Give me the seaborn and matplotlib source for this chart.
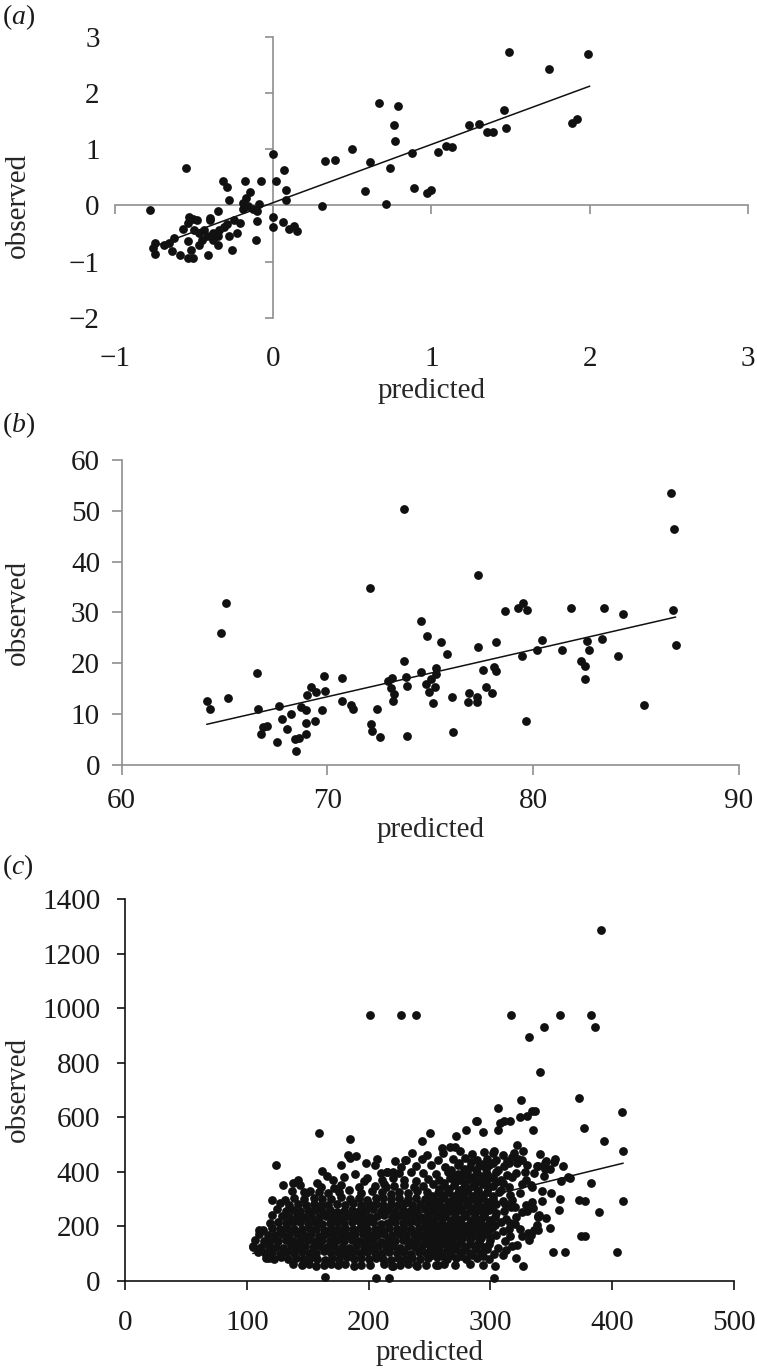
import matplotlib
matplotlib.use("Agg")
import matplotlib.pyplot as plt
import seaborn as sns

# ---------------- data ----------------
# panel (a)
a_pred = [-0.78, -0.55, 0.00, 0.07, 0.02, 0.08, 0.08, -0.32, -0.29, -0.18,
          -0.08, -0.28, -0.15, -0.17, -0.19, -0.16, -0.13, -0.09, -0.10, -0.19,
          -0.10, -0.11, 0.00, 0.00, 0.06, 0.10, 0.13, 0.15, -0.35, -0.40,
          -0.40, -0.25, -0.21, -0.23, -0.26, -0.35, -0.41, -0.53, -0.51, -0.48,
          -0.57, -0.54, -0.50, -0.47, -0.44, -0.45, -0.42, -0.38, -0.34, -0.31,
          -0.29, -0.35, -0.28, -0.54, -0.52, -0.54, -0.51, -0.59, -0.63, -0.66,
          -0.64, -0.69, -0.75, -0.76, -0.75, -0.47, -0.38, 0.31, 0.33, 0.39,
          0.50, 0.61, 0.58, 0.67, 0.79, 0.76, 0.77, 0.74, 0.71, 0.88,
          0.89, 0.97, 1.00, 1.04, 1.09, 1.13, 1.24, 1.30, 1.35, 1.39,
          1.46, 1.47, 1.49, 1.74, 1.89, 1.92, 1.99]
a_obs = [-0.08, 0.66, 0.92, 0.63, 0.44, 0.27, 0.10, 0.43, 0.33, 0.43,
         0.44, 0.10, 0.23, 0.13, 0.04, -0.02, -0.07, 0.03, -0.10, -0.06,
         -0.28, -0.62, -0.21, -0.38, -0.30, -0.42, -0.37, -0.45, -0.11, -0.22,
         -0.27, -0.27, -0.31, -0.49, -0.80, -0.70, -0.88, -0.21, -0.25, -0.26,
         -0.42, -0.32, -0.44, -0.49, -0.44, -0.61, -0.55, -0.49, -0.44, -0.38,
         -0.33, -0.55, -0.55, -0.64, -0.79, -0.93, -0.93, -0.88, -0.58, -0.67,
         -0.82, -0.70, -0.67, -0.76, -0.86, -0.70, -0.61, -0.01, 0.78, 0.81,
         1.01, 0.77, 0.26, 1.82, 1.76, 1.42, 1.14, 0.66, 0.03, 0.93,
         0.30, 0.22, 0.28, 0.94, 1.05, 1.03, 1.43, 1.44, 1.30, 1.30,
         1.69, 1.38, 2.72, 2.43, 1.47, 1.53, 2.70]
a_trend_x = [-0.77, 2.00]
a_trend_y = [-0.75, 2.12]

# panel (b)
b_pred = [64.16, 64.29, 64.83, 65.05, 65.18, 66.56, 66.61, 66.75, 66.88, 67.05,
          67.66, 67.53, 67.80, 68.02, 68.23, 68.44, 68.63, 68.45, 68.71, 68.96,
          68.96, 68.96, 68.99, 69.21, 69.44, 69.38, 69.72, 69.85, 69.88, 70.72,
          70.69, 71.14, 71.22, 72.07, 72.11, 72.15, 72.39, 72.55, 73.73, 72.96,
          73.15, 73.07, 73.25, 73.17, 73.73, 73.80, 73.85, 73.85, 74.54, 74.82,
          74.54, 74.79, 74.93, 75.01, 75.11, 75.22, 75.26, 75.27, 75.50, 75.79,
          76.03, 76.11, 76.89, 76.84, 77.25, 77.28, 77.30, 77.33, 77.57, 77.70,
          77.98, 78.09, 78.19, 78.19, 78.62, 79.27, 79.51, 79.71, 79.47, 79.65,
          80.20, 80.44, 81.41, 81.83, 82.30, 82.51, 82.51, 82.59, 82.69, 83.35,
          83.45, 84.10, 84.34, 85.38, 86.68, 86.85, 86.77, 86.92]
b_obs = [12.6, 10.96, 25.9, 31.9, 13.1, 18.0, 10.96, 6.1, 7.5, 7.7,
         11.6, 4.5, 9.0, 7.1, 10.0, 5.05, 5.4, 2.75, 11.35, 10.8,
         8.2, 6.1, 13.8, 15.3, 14.3, 8.7, 10.8, 17.6, 14.6, 17.05,
         12.6, 11.8, 11.0, 34.8, 8.0, 6.6, 11.1, 5.6, 50.3, 16.6,
         17.05, 15.1, 14.0, 12.5, 20.5, 17.4, 15.6, 5.8, 28.3, 25.4,
         18.2, 15.9, 14.3, 16.9, 12.1, 15.4, 17.9, 19.0, 24.1, 21.8,
         13.4, 6.4, 14.1, 12.3, 12.3, 13.3, 37.4, 23.3, 18.6, 15.3,
         14.1, 19.3, 18.5, 24.1, 30.3, 30.9, 31.8, 30.4, 21.5, 8.6,
         22.6, 24.6, 22.6, 30.8, 20.5, 19.5, 16.9, 24.3, 22.6, 24.8,
         30.8, 21.4, 29.8, 11.9, 53.6, 46.4, 30.5, 23.7]
b_trend_x = [64.13, 86.92]
b_trend_y = [8.0, 29.1]

# panel (c)
c_pred = [
    138, 145, 151, 157, 163, 169, 175, 181, 188, 194, 201, 213, 219, 226, 232, 239, 247, 255, 262, 271, 283, 294,
    116, 122, 128, 134, 140, 146, 152, 158, 164, 170, 176, 182, 188, 194, 200, 206, 212, 218, 224, 230, 236, 242, 249, 256, 264, 272, 280, 289, 299,
    109, 115, 121, 127, 133, 139, 145, 151, 157, 163, 169, 175, 181, 187, 193, 199, 205, 211, 217, 223, 229, 235, 241, 247, 253, 260, 267, 275, 283, 292, 303,
    105, 112, 118, 124, 130, 136, 142, 148, 154, 160, 166, 172, 178, 184, 190, 196, 202, 208, 214, 220, 226, 232, 238, 244, 251, 258, 265, 272, 279, 287, 295, 306, 318,
    107, 114, 120, 126, 132, 138, 144, 150, 156, 162, 168, 174, 180, 186, 192, 198, 204, 210, 216, 222, 228, 234, 240, 246, 252, 259, 267, 275, 283, 291, 300, 312,
    110, 117, 123, 129, 135, 141, 147, 153, 159, 165, 171, 177, 183, 189, 195, 201, 207, 213, 219, 225, 231, 237, 243, 249, 256, 263, 271, 279, 287, 295, 305, 326,
    113, 121, 127, 133, 139, 145, 151, 157, 163, 169, 175, 181, 187, 193, 199, 205, 211, 217, 223, 229, 235, 241, 247, 254, 261, 269, 277, 285, 293, 301, 315, 336,
    119, 126, 132, 138, 144, 150, 156, 162, 168, 174, 180, 186, 192, 198, 204, 210, 216, 222, 228, 234, 240, 246, 253, 260, 267, 275, 283, 291, 299, 309,
    121, 129, 135, 141, 147, 153, 159, 165, 171, 177, 183, 189, 195, 201, 207, 213, 219, 225, 231, 237, 243, 249, 256, 263, 271, 279, 287, 295, 304, 321, 339,
    125, 132, 138, 144, 150, 156, 162, 168, 174, 180, 186, 192, 198, 204, 210, 216, 222, 228, 234, 240, 246, 252, 259, 267, 275, 283, 291, 299, 311,
    127, 135, 142, 149, 155, 161, 167, 174, 181, 187, 194, 200, 206, 212, 218, 224, 230, 236, 242, 249, 257, 265, 273, 281, 289, 297, 305, 329,
    131, 139, 147, 155, 162, 169, 177, 185, 192, 199, 206, 212, 218, 225, 232, 239, 246, 254, 262, 270, 278, 286, 294, 302, 318,
    137, 149, 159, 167, 176, 184, 194, 203, 211, 218, 225, 232, 240, 248, 257, 265, 273, 281, 289, 297, 307, 324,
    144, 161, 177, 192, 205, 213, 221, 229, 237, 245, 253, 262, 270, 278, 286, 294, 302, 315, 333,
    171, 199, 211, 220, 229, 239, 249, 258, 267, 275, 283, 291, 299, 309, 329,
    189, 215, 225, 235, 245, 255, 265, 273, 281, 289, 297, 305, 321,
    205, 227, 239, 251, 263, 273, 283, 291, 299, 311, 339,
    185, 230, 244, 257, 269, 279, 289, 297, 305, 323, 345,
    261, 275, 285, 295, 303, 319, 352,
    201, 227, 239, 317, 357, 383, 386, 344, 332, 341, 373, 325, 306, 408, 377, 393, 409, 383, 409, 389,
    373, 378, 374, 378, 404, 351, 361, 365, 358, 349, 341, 335, 334, 337, 330, 322, 327, 294, 288, 280,
    272, 250, 244, 231, 159, 185, 183, 190, 124, 162, 177, 207, 215, 220, 138, 147, 121, 164, 206, 217,
    303, 327, 321, 304, 257, 240, 220, 349, 342, 339, 333, 339, 334, 335, 391, 105, 110, 118, 308, 311,
    316, 289, 306, 324, 260, 267, 271,
    302, 310, 318, 326, 314, 322, 330, 338, 346, 353, 360, 345, 328, 336, 344, 318, 310, 326, 334, 342,
    350, 357, 312, 320, 330, 340, 356, 364, 346, 338, 316, 324, 332,
    130, 142, 152, 158, 166, 172, 180, 196, 210, 222, 236, 248, 198, 214,
    252, 260, 268, 276, 285, 294, 310,
    250, 257, 264, 271, 279, 288, 297, 313,
    248, 255, 262, 269, 276, 283, 291, 299, 322,
    250, 256, 263, 270, 277, 284, 292, 300, 316,
    252, 259, 266, 274, 282, 290, 298, 310, 331,
    250, 257, 264, 271, 279, 287, 295, 304, 320,
    253, 260, 268, 276, 284, 292, 300, 313,
    249, 256, 263, 271, 279, 287, 295, 305, 326,
    253, 261, 269, 277, 285, 293, 301, 317,
    250, 258, 266, 274, 282, 290, 298, 310,
    252, 261, 269, 277, 285, 293, 302, 316,
    258, 266, 274, 282, 290, 298, 309,
    262, 271, 279, 288, 296, 305,
    270, 278, 286, 294, 302, 314,
    268, 278, 288, 296, 306,
    274, 284, 294, 302, 315,
]
c_obs = [
    62, 57, 60, 55, 58, 63, 56, 60, 54, 59, 57, 61, 55, 58, 62, 56, 59, 57, 63, 58, 60, 56,
    84, 80, 86, 78, 82, 79, 85, 81, 77, 83, 80, 86, 79, 82, 78, 84, 81, 77, 83, 80, 85, 79, 82, 86, 78, 83, 80, 85, 81,
    106, 101, 104, 99, 107, 102, 105, 100, 103, 108, 101, 104, 99, 106, 102, 105, 100, 103, 107, 101, 104, 99, 106, 102, 105, 100, 104, 107, 101, 103, 98,
    126, 122, 128, 124, 121, 127, 125, 129, 122, 126, 123, 128, 124, 121, 127, 125, 122, 129, 124, 126, 121, 127, 123, 128, 125, 122, 126, 129, 123, 127, 124, 121, 128,
    150, 146, 149, 144, 151, 147, 145, 150, 143, 148, 146, 151, 144, 149, 147, 145, 150, 143, 148, 146, 151, 144, 149, 147, 152, 145, 148, 143, 150, 146, 149, 144,
    172, 168, 166, 171, 169, 173, 167, 170, 165, 172, 168, 171, 166, 170, 173, 167, 169, 172, 166, 171, 168, 173, 167, 170, 165, 172, 168, 171, 166, 170, 168, 165,
    186, 192, 189, 194, 190, 188, 193, 191, 187, 195, 190, 192, 188, 194, 189, 191, 187, 193, 190, 195, 188, 192, 189, 194, 190, 187, 193, 191, 188, 194, 190, 186,
    212, 216, 210, 214, 217, 211, 215, 209, 213, 216, 210, 214, 218, 211, 215, 209, 213, 217, 210, 214, 216, 211, 215, 209, 213, 217, 210, 214, 212, 216,
    240, 236, 233, 238, 234, 237, 232, 239, 235, 231, 237, 234, 238, 233, 236, 240, 234, 237, 232, 238, 235, 233, 239, 236, 234, 237, 232, 238, 235, 233, 236,
    262, 256, 259, 254, 258, 261, 255, 259, 253, 257, 260, 254, 258, 262, 255, 259, 256, 261, 254, 258, 262, 255, 259, 256, 260, 254, 258, 261, 257,
    284, 278, 281, 276, 283, 279, 277, 282, 278, 284, 276, 280, 283, 277, 281, 279, 284, 276, 282, 278, 281, 277, 283, 279, 276, 282, 280, 278,
    296, 302, 299, 304, 298, 301, 306, 299, 303, 297, 302, 305, 299, 303, 298, 304, 300, 297, 303, 299, 305, 298, 302, 300, 296,
    330, 322, 327, 320, 326, 333, 321, 328, 324, 319, 327, 322, 329, 324, 320, 327, 323, 329, 321, 326, 324, 320,
    352, 344, 350, 342, 349, 355, 346, 351, 344, 349, 353, 346, 350, 343, 348, 354, 347, 344, 351,
    368, 375, 370, 377, 371, 366, 374, 369, 376, 370, 373, 367, 375, 371, 368,
    392, 399, 394, 400, 395, 391, 398, 393, 400, 396, 392, 399, 394,
    424, 417, 421, 426, 418, 423, 416, 422, 425, 419, 421,
    450, 442, 447, 441, 446, 450, 443, 448, 441, 446, 432,
    468, 474, 466, 472, 477, 469, 437,
    975, 975, 975, 975, 975, 975, 932, 932, 895, 764, 671, 664, 632, 617, 559, 513, 476, 358, 293, 252,
    296, 293, 164, 164, 104, 104, 104, 378, 364, 409, 464, 554, 621, 621, 603, 498, 474, 547, 584, 554,
    529, 541, 511, 443, 541, 520, 462, 456, 424, 404, 424, 446, 400, 400, 358, 325, 296, 15, 9, 9,
    9, 54, 82, 54, 58, 55, 55, 195, 293, 235, 168, 186, 290, 266, 1287, 125, 186, 82, 578, 584,
    584, 584, 553, 602, 486, 492, 492,
    468, 460, 452, 444, 438, 430, 425, 420, 440, 445, 420, 410, 400, 395, 385, 380, 360, 355, 345, 330,
    320, 300, 280, 270, 255, 240, 260, 380, 230, 205, 210, 190, 150,
    350, 368, 330, 360, 385, 340, 380, 365, 395, 438, 470, 460, 430, 345,
    93, 90, 95, 89, 94, 91, 96,
    114, 117, 112, 116, 113, 118, 115, 111,
    137, 134, 139, 135, 138, 133, 140, 136, 132,
    158, 161, 156, 160, 157, 162, 155, 159, 163,
    180, 183, 178, 182, 179, 184, 177, 181, 176,
    202, 205, 200, 204, 201, 206, 199, 203, 207,
    224, 227, 222, 226, 223, 228, 221, 225,
    246, 249, 244, 248, 245, 250, 243, 247, 251,
    268, 271, 266, 270, 267, 272, 265, 269,
    290, 293, 288, 292, 289, 294, 287, 291,
    312, 315, 310, 314, 311, 316, 309, 313,
    335, 338, 333, 337, 334, 339, 332,
    359, 362, 357, 361, 358, 363,
    383, 386, 381, 385, 382, 387,
    407, 410, 405, 409, 406,
    431, 434, 429, 433, 430,
]
c_trend_x = [105, 409]
c_trend_y = [100, 431]

# ---------------- style ----------------
sns.set_style("ticks")
plt.rcParams["font.family"] = ["Liberation Serif", "DejaVu Serif"]
plt.rcParams["mathtext.fontset"] = "custom"
plt.rcParams["mathtext.rm"] = "Liberation Serif"
plt.rcParams["mathtext.it"] = "Liberation Serif:italic"

FS = 21
DOT = "#111111"
GREY = "#8f8f8f"
PX = 0.72  # points per pixel at 100 dpi

fig = plt.figure(figsize=(7.57, 13.69), dpi=100)
ax_a = fig.add_axes([0.1519, 0.76793, 0.8362, 0.20526])
ax_b = fig.add_axes([0.16077, 0.44120, 0.81546, 0.22279])
ax_c = fig.add_axes([0.16513, 0.06450, 0.80449, 0.27882])


def draw(ax, x, y, tx, ty):
    sns.scatterplot(x=x, y=y, ax=ax, s=40, color=DOT, linewidth=0,
                    clip_on=False, zorder=3)
    sns.lineplot(x=tx, y=ty, ax=ax, color=DOT, linewidth=1.1, sort=False,
                 zorder=4)


def frame(ax, color, xpad, ypad, xlen, ylen, lw):
    for s in ("top", "right"):
        ax.spines[s].set_visible(False)
    for s in ("left", "bottom"):
        ax.spines[s].set_color(color)
        ax.spines[s].set_linewidth(lw)
    ax.tick_params(axis="x", direction="out", length=xlen * PX, width=lw,
                   color=color, pad=xpad * PX, labelsize=FS, labelcolor="#1a1a1a")
    ax.tick_params(axis="y", direction="out", length=ylen * PX, width=lw,
                   color=color, pad=ypad * PX, labelsize=FS, labelcolor="#1a1a1a")


# (a)
draw(ax_a, a_pred, a_obs, a_trend_x, a_trend_y)
ax_a.set_xlim(-1, 3)
ax_a.set_ylim(-2, 3)
ax_a.set_xticks([-1, 0, 1, 2, 3])
ax_a.set_yticks([-2, -1, 0, 1, 2, 3])
ax_a.spines["left"].set_position(("data", 0))
ax_a.spines["bottom"].set_position(("data", 0))
frame(ax_a, GREY, xpad=132, ypad=165, xlen=8.5, ylen=8.5, lw=1.2)
ax_a.set_xlabel("predicted", fontsize=FS)
ax_a.set_ylabel("observed", fontsize=FS)
ax_a.xaxis.set_label_coords(0.5, -0.215)
ax_a.yaxis.set_label_coords(-0.133, 0.40)

# (b)
draw(ax_b, b_pred, b_obs, b_trend_x, b_trend_y)
ax_b.set_xlim(60, 90)
ax_b.set_ylim(0, 60)
ax_b.set_xticks([60, 70, 80, 90])
ax_b.set_yticks([0, 10, 20, 30, 40, 50, 60])
frame(ax_b, GREY, xpad=13, ypad=11.7, xlen=10, ylen=10, lw=1.2)
ax_b.set_xlabel("predicted", fontsize=FS)
ax_b.set_ylabel("observed", fontsize=FS)
ax_b.xaxis.set_label_coords(0.5, -0.172)
ax_b.yaxis.set_label_coords(-0.147, 0.5)

# (c)
draw(ax_c, c_pred, c_obs, c_trend_x, c_trend_y)
ax_c.set_xlim(0, 500)
ax_c.set_ylim(0, 1400)
ax_c.set_xticks([0, 100, 200, 300, 400, 500])
ax_c.set_yticks([0, 200, 400, 600, 800, 1000, 1200, 1400])
frame(ax_c, "#111111", xpad=20.5, ypad=16.5, xlen=8.7, ylen=8.3, lw=1.2)
ax_c.set_xlabel("predicted", fontsize=FS)
ax_c.set_ylabel("observed", fontsize=FS)
ax_c.xaxis.set_label_coords(0.5, -0.155)
ax_c.yaxis.set_label_coords(-0.154, 0.5)

# panel letters
for ypix, letter in ((17, "a"), (425, "b"), (867, "c")):
    fig.text(0.002, 1 - ypix / 1369, "($%s$)" % letter, fontsize=20,
             ha="left", va="center", color="#1a1a1a")

fig.savefig("out.png", dpi=100)
